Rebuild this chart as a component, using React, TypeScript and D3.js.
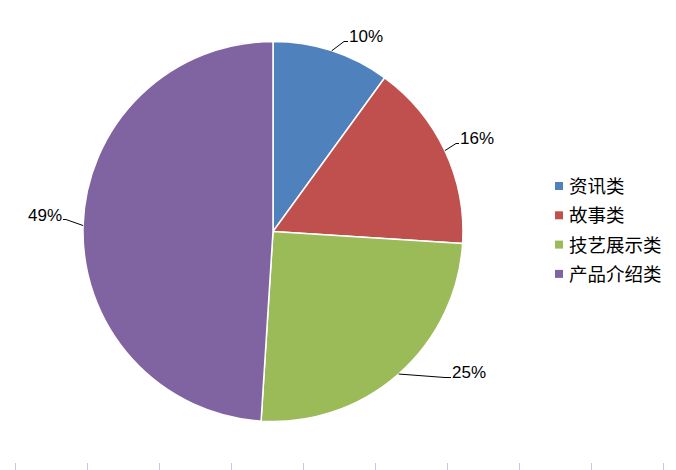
import React from "react";
import * as d3 from "d3";

const categories = ["资讯类", "故事类", "技艺展示类", "产品介绍类"];
const values = [10, 16, 25, 49];
const labels = ["10%", "16%", "25%", "49%"];
const colors = ["#4F81BD", "#C0504D", "#9BBB59", "#8064A2"];

// label layout: elbow point and text anchor (relative to pie center)
const labelElbow: [number, number][] = [
  [71, -190],
  [183, -88],
  [172, 146],
  [-207, -12],
];
const labelText: [number, number, string][] = [
  [76, -190, "start"],
  [187, -88, "start"],
  [179, 146, "start"],
  [-211, -11, "end"],
];

export default function App() {
  const W = 676, H = 470;
  const cx = 273, cy = 231.5, r = 190;
  const pie = d3.pie<number>().sort(null).value((d) => d)(values);
  const arc = d3.arc<d3.PieArcDatum<number>>().innerRadius(0).outerRadius(r);
  const tickX = d3.range(10).map((i) => 15.5 + i * 72);
  return (
    <svg width={W} height={H} style={{ position: "absolute", left: 0, top: 0, background: "#fff" }}>
      <rect width={W} height={H} fill="#fff" />
      <g transform={`translate(${cx},${cy})`}>
        {pie.map((p, i) => (
          <path key={i} d={arc(p) || ""} fill={colors[i]} stroke="#fff" strokeWidth={1.5} />
        ))}
        {pie.map((p, i) => {
          const a = (p.startAngle + p.endAngle) / 2;
          const ex = Math.sin(a) * r, ey = -Math.cos(a) * r;
          const [bx, by] = labelElbow[i];
          const [tx, ty, anchor] = labelText[i];
          return (
            <g key={"l" + i}>
              <polyline
                points={`${ex},${ey} ${bx},${by} ${anchor === "start" ? tx - 1 : tx + 1},${by}`}
                fill="none"
                stroke="#000"
                strokeWidth={1}
              />
              <text
                x={tx}
                y={ty + 0.5}
                textAnchor={anchor}
                fontFamily="'Liberation Sans', Arial, sans-serif"
                fontSize={17}
                fill="#000"
              >
                {labels[i]}
              </text>
            </g>
          );
        })}
      </g>
      {categories.map((c, i) => (
        <g key={c} transform={`translate(555,${186 + i * 29.3})`}>
          <rect x={0} y={-4} width={8} height={8} fill={colors[i]} />
          <text
            x={14}
            y={7}
            fontFamily="'Noto Sans CJK SC', sans-serif"
            fontSize={18.5}
            fill="#000"
          >
            {c}
          </text>
        </g>
      ))}
      {tickX.map((x, i) => (
        <line key={i} x1={x} x2={x} y1={463} y2={470} stroke="#c8c8d8" strokeWidth={1} />
      ))}
    </svg>
  );
}
